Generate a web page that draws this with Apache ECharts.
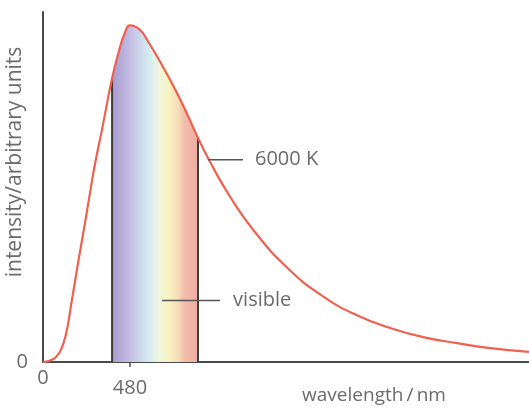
<!DOCTYPE html>
<html>
<head>
<meta charset="utf-8">
<script src="https://cdn.jsdelivr.net/npm/echarts@6/dist/echarts.min.js"></script>
<style>html,body{margin:0;padding:0;background:#fff;}#c{width:529px;height:408px;}</style>
</head>
<body>
<div id="c"></div>
<script>
// Data
const wavelength = [0, 39, 72, 99, 127, 155, 193, 232, 265, 287, 326, 381, 414, 452, 480, 535, 579, 657, 728, 795, 855, 921, 1032, 1159, 1346, 1545, 1732, 1915, 2097, 2284, 2466, 2681];
const intensity  = [0, 0.44, 1.5, 3.6, 8.3, 16.9, 29.3, 41.4, 52.1, 58.9, 69.2, 84.3, 91.4, 97.9, 100, 98.7, 95.3, 88.2, 81.1, 73.7, 66.6, 59.5, 49.1, 39.3, 28.1, 19.5, 13.9, 10.1, 7.4, 5.6, 4.1, 3.0];
const visibleRange = [381, 855];
const xTickLabels = [0, 480];
const curveLabel = '6000 K';
const visibleLabel = 'visible';
const curveLeader = [[910, 60.1], [1103, 60.1]];
const visibleLeader = [[657, 18.3], [977, 18.3]];

const curve = wavelength.map((w, i) => [w, intensity[i]]);
const band = curve.filter(p => p[0] >= visibleRange[0] && p[0] <= visibleRange[1]);
const edgeL = band[0], edgeR = band[band.length - 1];

const FONT = '"Open Sans", "Liberation Sans", sans-serif';
const TXT = '#6b6b6b';

const chart = echarts.init(document.getElementById('c'));
chart.setOption({
  animation: false,
  backgroundColor: '#fff',
  grid: { left: 43, right: 0, top: 12, bottom: 46, containLabel: false, outerBoundsMode: 'none' },
  xAxis: {
    type: 'value', min: 0, max: 2681,
    name: 'wavelength\u2009/\u2009nm', nameLocation: 'middle', nameGap: 24, nameMoveOverlap: false,
    nameTextStyle: { fontFamily: FONT, fontSize: 19, color: TXT, padding: [0, 0, 0, 176] },
    axisLine: { lineStyle: { color: '#4a4a4a', width: 2 } },
    axisTick: { show: true, customValues: [480], length: 5, lineStyle: { color: '#4a4a4a', width: 1.5 } },
    axisLabel: {
      customValues: xTickLabels, margin: 6,
      fontFamily: FONT, fontSize: 20, color: TXT,
      formatter: v => v === 480 ? '{b|480}' : '{a|' + v + '}',
      rich: { a: { fontFamily: FONT, fontSize: 20, color: TXT }, b: { fontFamily: FONT, fontSize: 20, color: TXT, padding: [10, 0, 0, 0] } }
    },
    splitLine: { show: false }
  },
  yAxis: {
    type: 'value', min: 0, max: 104, interval: 104,
    name: 'intensity/arbitrary units', nameLocation: 'middle', nameGap: 17, nameMoveOverlap: false,
    nameTextStyle: { fontFamily: FONT, fontSize: 21, color: TXT, padding: [0, 0, 0, 50] },
    axisLine: { show: true, lineStyle: { color: '#4a4a4a', width: 2 } },
    axisTick: { show: false },
    axisLabel: { margin: 15, fontFamily: FONT, fontSize: 20, color: TXT, formatter: v => v === 0 ? '0' : '' },
    splitLine: { show: false }
  },
  series: [
    {
      type: 'line', data: band, smooth: 0.5, showSymbol: false, silent: true, z: 1,
      lineStyle: { width: 0 },
      areaStyle: {
        opacity: 1,
        color: new echarts.graphic.LinearGradient(0, 0, 1, 0, [
          { offset: 0, color: '#a89cce' },
          { offset: 0.22, color: '#c4bfe4' },
          { offset: 0.42, color: '#d4eaf2' },
          { offset: 0.55, color: '#eff7de' },
          { offset: 0.66, color: '#f9f3c0' },
          { offset: 0.77, color: '#f6dcb6' },
          { offset: 0.84, color: '#f2bdac' },
          { offset: 1, color: '#efaca0' }
        ])
      }
    },
    {
      type: 'line', data: [[edgeL[0], 0], edgeL], showSymbol: false, silent: true, z: 2,
      lineStyle: { color: '#3e3e3e', width: 2 }
    },
    {
      type: 'line', data: [[edgeR[0], 0], edgeR], showSymbol: false, silent: true, z: 2,
      lineStyle: { color: '#3e3e3e', width: 2 }
    },
    {
      type: 'line', data: curve, smooth: 0.5, showSymbol: false, silent: true, z: 3,
      lineStyle: { color: '#f0604f', width: 2.2 }
    },
    {
      type: 'line', showSymbol: false, silent: true, z: 4,
      lineStyle: { color: '#555', width: 1.5 },
      endLabel: { show: true, distance: 12, formatter: curveLabel, fontFamily: FONT, fontSize: 20, color: TXT },
      data: curveLeader
    },
    {
      type: 'line', showSymbol: false, silent: true, z: 4,
      lineStyle: { color: '#555', width: 1.5 },
      endLabel: { show: true, distance: 13, formatter: visibleLabel, fontFamily: FONT, fontSize: 20, color: TXT },
      data: visibleLeader
    }
  ]
});
</script>
</body>
</html>
